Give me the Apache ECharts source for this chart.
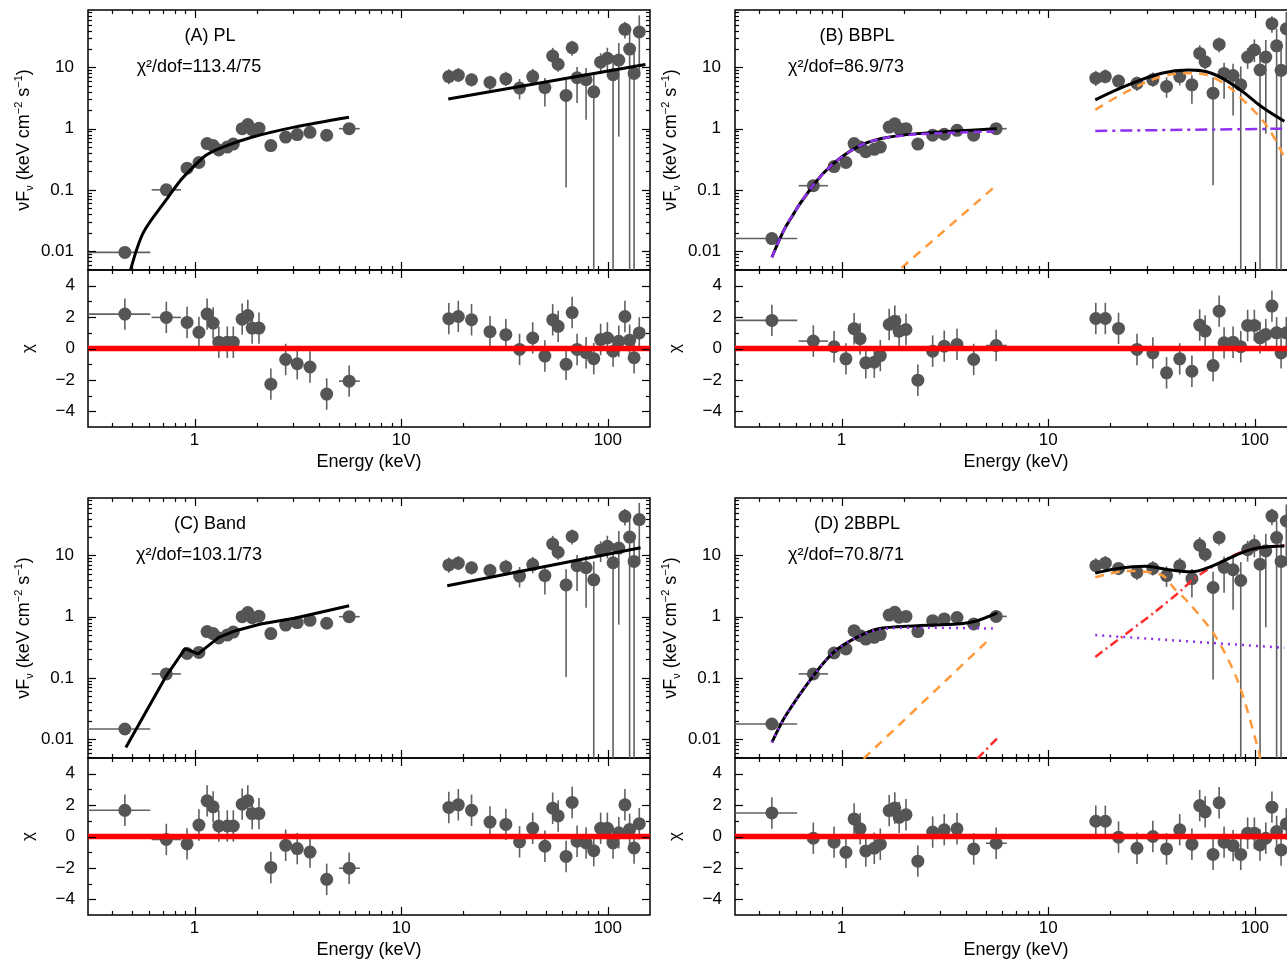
<!DOCTYPE html>
<html>
<head>
<meta charset="utf-8">
<script src="https://cdn.jsdelivr.net/npm/echarts@6/dist/echarts.min.js"></script>
<style>
  html, body { margin: 0; background: #fff; }
  #chart { width: 1287px; height: 961px; }
</style>
</head>
<body>
<div id="chart"></div>
<script>
// ---- axis ranges and tick marks ----
const X_MIN = 0.305, X_MAX = 160;
const Y_MIN = 0.0049, Y_MAX = 87;
const X_MAJOR = [1, 10, 100];
const X_MINOR = [0.4, 0.5, 0.6, 0.7, 0.8, 0.9, 2, 3, 4, 5, 6, 7, 8, 9, 20, 30, 40, 50, 60, 70, 80, 90];
const Y_MAJOR = [0.01, 0.1, 1, 10];
const Y_MINOR = [0.005, 0.006, 0.007, 0.008, 0.009, 0.02, 0.03, 0.04, 0.05, 0.06, 0.07, 0.08, 0.09,
  0.2, 0.3, 0.4, 0.5, 0.6, 0.7, 0.8, 0.9, 2, 3, 4, 5, 6, 7, 8, 9, 20, 30, 40, 50, 60, 70, 80];
const R_MAJOR = [-4, -2, 0, 2, 4];
const R_MINOR = [-3, -1, 1, 3];

// ---- energies (keV) ----
const lowE = [0.46, 0.73, 0.92, 1.05, 1.15, 1.23, 1.31, 1.44, 1.54, 1.70, 1.81, 1.90, 2.05, 2.34, 2.76, 3.14, 3.62, 4.36, 5.60];
const lowBinLo = [0.30, 0.62, 0.92, 1.05, 1.15, 1.23, 1.31, 1.44, 1.54, 1.70, 1.81, 1.90, 2.05, 2.34, 2.76, 3.14, 3.62, 4.36, 5.0];
const lowBinHi = [0.61, 0.86, 0.92, 1.05, 1.15, 1.23, 1.31, 1.44, 1.54, 1.70, 1.81, 1.90, 2.05, 2.34, 2.76, 3.14, 3.62, 4.36, 6.3];
const highE = [17.0, 18.9, 21.9, 26.9, 32.1, 37.4, 43.3, 49.6, 54.1, 57.5, 62.8, 67.2, 71.0, 78.5, 85.5, 92.3, 99.5, 106, 113, 121, 127.5, 134, 142];
// flux error ratios for high-energy bins (down / up)
const errDn = [1.34, 1.29, 1.29, 1.33, 1.3, 1.53, 1.39, 2.04, 1.4, 1.33, 32, 1.35, 2.6, 4.5, 1e6, 1.56, 1.57, 1e6, 17.8, 1.41, 1e6, 1e6, 5.4];
const errUp = [1.32, 1.31, 1.27, 1.28, 1.31, 1.41, 1.34, 1.43, 1.36, 1.33, 1.8, 1.3, 1.5, 1.55, 2.0, 1.4, 1.49, 2.1, 1.9, 1.32, 1.9, 2.2, 1.87];

// ---- unfolded spectra, nuFnu (keV cm^-2 s^-1) ----
const fluxLowA = [0.0095, 0.10, 0.226, 0.28, 0.57, 0.53, 0.45, 0.50, 0.56, 1.0, 1.17, 0.96, 1.02, 0.53, 0.73, 0.80, 0.87, 0.78, 1.0];
const fluxHighA = [7.1, 7.5, 6.3, 5.7, 6.5, 4.6, 7.1, 4.7, 15.4, 11.3, 3.5, 21, 6.8, 6.3, 4.0, 12.2, 14.1, 7.6, 13.2, 42, 20, 8.0, 38];
const fluxLowB = [0.016, 0.117, 0.24, 0.28, 0.57, 0.50, 0.42, 0.46, 0.50, 1.06, 1.2, 1.0, 1.0, 0.56, 0.78, 0.81, 0.94, 0.78, 1.0];
const fluxHighB = [6.7, 7.1, 6.0, 5.5, 6.3, 4.9, 7.1, 5.2, 17.0, 12.4, 3.8, 23.8, 8.0, 7.4, 5.2, 14.8, 19.3, 9.1, 14.8, 52, 22.6, 9.0, 43];
const fluxLowC = [0.0146, 0.116, 0.25, 0.26, 0.57, 0.53, 0.45, 0.50, 0.56, 1.0, 1.17, 0.96, 1.02, 0.53, 0.73, 0.80, 0.87, 0.78, 1.0];
const fluxHighC = [7.0, 7.5, 6.3, 5.7, 6.5, 4.6, 7.1, 4.7, 15.4, 11.3, 3.3, 20.5, 6.8, 6.3, 4.0, 12.2, 14.1, 7.6, 13.2, 43.7, 20, 8.0, 38.6];
const fluxLowD = [0.0176, 0.116, 0.255, 0.296, 0.59, 0.49, 0.43, 0.46, 0.51, 1.06, 1.18, 0.98, 1.01, 0.57, 0.86, 0.92, 0.97, 0.76, 1.01];
const fluxHighD = [6.8, 7.5, 6.15, 5.3, 6.15, 4.7, 6.8, 4.2, 14.7, 10.5, 3.0, 19.6, 6.4, 5.85, 3.9, 12.4, 14.7, 7.2, 11.9, 44, 19.6, 8.0, 36.6];

// ---- residuals (chi) ----
const resLowA = [2.19, 1.98, 1.66, 1.03, 2.19, 1.62, 0.4, 0.4, 0.4, 1.87, 2.1, 1.3, 1.3, -2.27, -0.7, -0.97, -1.18, -2.9, -2.08];
const resHighA = [1.9, 2.04, 1.83, 1.07, 0.88, -0.06, 0.67, -0.48, 1.83, 1.41, -1.01, 2.29, -0.06, -0.27, -0.65, 0.57, 0.67, -0.17, 0.46, 2.04, 0.53, -0.59, 0.99];
const resLowB = [1.79, 0.47, 0.11, -0.66, 1.26, 0.62, -0.91, -0.87, -0.45, 1.53, 1.74, 1.1, 1.21, -2.02, -0.17, 0.15, 0.26, -0.70, 0.19];
const resHighB = [1.91, 1.91, 1.28, -0.06, -0.28, -1.55, -0.66, -1.45, 1.49, 1.11, -1.09, 2.38, 0.36, 0.40, 0.11, 1.47, 1.47, 0.68, 0.89, 2.70, 1.0, -0.28, 1.0];
const resLowC = [1.67, -0.19, -0.47, 0.73, 2.27, 1.89, 0.67, 0.67, 0.67, 2.06, 2.27, 1.46, 1.46, -1.97, -0.56, -0.77, -0.99, -2.73, -2.02];
const resHighC = [1.85, 2.02, 1.67, 0.92, 0.77, -0.34, 0.52, -0.62, 1.80, 1.31, -1.27, 2.17, -0.30, -0.41, -0.90, 0.52, 0.52, -0.41, 0.24, 2.02, 0.45, -0.73, 0.82];
const resLowD = [1.50, -0.11, -0.36, -1.01, 1.12, 0.49, -0.92, -0.75, -0.49, 1.65, 1.82, 1.22, 1.39, -1.57, 0.28, 0.43, 0.49, -0.79, -0.43];
const resHighD = [0.97, 0.97, -0.04, -0.75, 0.0, -0.79, 0.43, -0.49, 1.97, 1.57, -1.14, 2.15, -0.36, -0.58, -1.14, 0.21, 0.21, -0.54, -0.11, 1.87, 0.32, -0.86, 0.8];

// ---- model curves [E, nuFnu] ----
const modelA_low = [[0.49, 0.0049], [0.565, 0.020], [0.73, 0.069], [0.86, 0.146], [0.99, 0.24], [1.14, 0.37], [1.37, 0.50], [1.91, 0.73], [3.04, 1.06], [5.59, 1.54]];
const modelA_high = [[16.9, 3.05], [152, 11.2]];

const modelB_low = [[0.46, 0.0079], [0.54, 0.026], [0.73, 0.12], [0.915, 0.27], [1.19, 0.5], [1.56, 0.69], [2.33, 0.83], [5.63, 1.0]];
const modelB_lowPL = [[0.46, 0.0079], [0.54, 0.026], [0.73, 0.12], [0.915, 0.27], [1.19, 0.5], [1.56, 0.69], [2.33, 0.81], [5.63, 0.9]];
const modelB_lowBB = [[1.95, 0.0053], [5.63, 0.12]];
const modelB_high = [[16.9, 2.96], [24.4, 5.19], [35.4, 8.05], [47.6, 9.1], [61.7, 8.05], [83, 4.59], [107.5, 2.3], [139, 1.32]];
const modelB_highBB = [[16.9, 2.04], [24.4, 4.15], [35.4, 7.08], [49.4, 8.05], [66.4, 6.27], [89.3, 2.78], [116, 1.03], [139, 0.334]];
const modelB_highPL = [[16.9, 0.92], [139, 1.0]];

const modelC_low = [[0.465, 0.0073], [0.73, 0.108], [0.90, 0.30], [1.04, 0.246], [1.31, 0.46], [1.58, 0.59], [2.09, 0.76], [3.04, 0.94], [5.6, 1.51]];
const modelC_high = [[16.7, 3.2], [144, 13.4]];

const modelD_low = [[0.46, 0.0088], [0.536, 0.024], [0.73, 0.108], [0.915, 0.26], [1.14, 0.43], [1.49, 0.63], [2.33, 0.71], [3.64, 0.76], [4.54, 0.86], [5.67, 1.15]];
const modelD_lowPL = [[0.46, 0.0088], [0.536, 0.024], [0.73, 0.108], [0.915, 0.26], [1.14, 0.43], [1.49, 0.61], [2.33, 0.66], [5.4, 0.64]];
const modelD_lowBB1 = [[1.28, 0.0048], [5.31, 0.46]];
const modelD_lowBB2 = [[4.54, 0.0048], [5.67, 0.0103]];
const modelD_high = [[16.9, 5.15], [21.8, 6.15], [29.5, 6.65], [38.2, 5.85], [49.3, 5.4], [61.7, 6.65], [80, 9.9], [100, 13.0], [139, 14.3]];
const modelD_highBB1 = [[16.9, 4.4], [24.4, 5.6], [35.4, 4.8], [41, 2.83], [47.6, 1.72], [64.1, 0.494], [83, 0.086], [103.7, 0.007], [106, 0.0048]];
const modelD_highBB2 = [[16.9, 0.22], [22.7, 0.465], [32.7, 1.18], [44.4, 2.75], [50, 4.0], [61.7, 6.4], [89.3, 11.9], [139, 14.7]];
const modelD_highPL = [[16.9, 0.5], [139, 0.31]];

const FONT = '"Liberation Sans", Arial, Helvetica, sans-serif';
const BLACK = {color: '#000', width: 3, type: 'solid'};
const ORANGE = {color: '#ff9a3c', width: 2.5, type: [9, 7]};
const PURPLE_DD = {color: '#9030f0', width: 2.5, type: [12, 5, 3, 5]};
const PURPLE_DOT = {color: '#9030f0', width: 2.5, type: [2, 5]};
const PURPLE_DASH = {color: '#9030f0', width: 2.5, type: [8, 5]};
const RED_DD = {color: '#ff2a2a', width: 2.5, type: [9, 4, 2, 4]};

const panels = [
  {left: 88, top: 10, title: '(A) PL', chi: 'χ²/dof=113.4/75',
   fLow: fluxLowA, fHigh: fluxHighA, rLow: resLowA, rHigh: resHighA,
   models: [
     {data: modelA_low, style: BLACK, smooth: 0.3},
     {data: modelA_high, style: BLACK}]},
  {left: 735, top: 10, title: '(B) BBPL', chi: 'χ²/dof=86.9/73',
   fLow: fluxLowB, fHigh: fluxHighB, rLow: resLowB, rHigh: resHighB,
   models: [
     {data: modelB_lowBB, style: ORANGE},
     {data: modelB_highBB, style: ORANGE, smooth: 0.4},
     {data: modelB_highPL, style: PURPLE_DD},
     {data: modelB_low, style: BLACK, smooth: 0.3},
     {data: modelB_lowPL, style: PURPLE_DASH, smooth: 0.3},
     {data: modelB_high, style: BLACK, smooth: 0.4}]},
  {left: 88, top: 498, title: '(C) Band', chi: 'χ²/dof=103.1/73',
   fLow: fluxLowC, fHigh: fluxHighC, rLow: resLowC, rHigh: resHighC,
   models: [
     {data: modelC_low, style: BLACK, smooth: false},
     {data: modelC_high, style: BLACK}]},
  {left: 735, top: 498, title: '(D) 2BBPL', chi: 'χ²/dof=70.8/71',
   fLow: fluxLowD, fHigh: fluxHighD, rLow: resLowD, rHigh: resHighD,
   models: [
     {data: modelD_lowBB1, style: ORANGE},
     {data: modelD_lowBB2, style: RED_DD},
     {data: modelD_highBB1, style: ORANGE, smooth: 0.3},
     {data: modelD_highBB2, style: RED_DD, smooth: 0.3},
     {data: modelD_highPL, style: PURPLE_DOT},
     {data: modelD_low, style: BLACK, smooth: 0.3},
     {data: modelD_lowPL, style: PURPLE_DOT, smooth: 0.3},
     {data: modelD_high, style: BLACK, smooth: 0.4}]}
];

const W = 562, H_TOP = 260, H_RES = 157;

function logFmt(v) {
  const lg = Math.log10(v);
  const k = Math.round(lg);
  if (Math.abs(lg - k) > 1e-6) return '';
  return k < 0 ? Math.pow(10, k).toFixed(-k) : String(Math.pow(10, k));
}
function resFmt(v) {
  if (Math.abs(v % 2) > 1e-9) return '';
  return v < 0 ? '\u2212' + (-v) : String(v);
}

function tickData(isRes) {
  const yRef = isRes ? 0 : 1;
  const d = [];
  X_MAJOR.forEach(v => d.push([v, yRef, 0, 1]));
  X_MINOR.forEach(v => d.push([v, yRef, 0, 0]));
  (isRes ? R_MAJOR : Y_MAJOR).forEach(v => d.push([1, v, 1, 1]));
  (isRes ? R_MINOR : Y_MINOR).forEach(v => d.push([1, v, 1, 0]));
  return d;
}

function renderTicks(params, api) {
  const cs = params.coordSys;
  const p = api.coord([api.value(0), api.value(1)]);
  const len = api.value(3) ? 8 : 4;
  const st = {stroke: '#000', lineWidth: 1.2};
  let a, b;
  if (api.value(2) === 0) {
    const x = Math.round(p[0]) + 0.5;
    a = {x1: x, y1: cs.y + cs.height, x2: x, y2: cs.y + cs.height - len};
    b = {x1: x, y1: cs.y, x2: x, y2: cs.y + len};
  } else {
    const y = Math.round(p[1]) + 0.5;
    a = {x1: cs.x, y1: y, x2: cs.x + len, y2: y};
    b = {x1: cs.x + cs.width, y1: y, x2: cs.x + cs.width - len, y2: y};
  }
  return {type: 'group', children: [
    {type: 'line', shape: a, style: st},
    {type: 'line', shape: b, style: st}]};
}

function renderErr(params, api) {
  const cs = params.coordSys;
  const cy = v => Math.max(cs.y, Math.min(cs.y + cs.height, v));
  const cx = v => Math.max(cs.x, Math.min(cs.x + cs.width, v));
  const c = api.coord([api.value(0), api.value(1)]);
  const t = api.coord([api.value(0), api.value(3)]);
  const b = api.coord([api.value(0), api.value(2)]);
  const l = api.coord([api.value(4), api.value(1)]);
  const r = api.coord([api.value(5), api.value(1)]);
  const st = {stroke: '#606060', lineWidth: 1.6};
  return {type: 'group', children: [
    {type: 'line', shape: {x1: c[0], y1: cy(t[1]), x2: c[0], y2: cy(b[1])}, style: st},
    {type: 'line', shape: {x1: cx(l[0]), y1: c[1], x2: cx(r[0]), y2: c[1]}, style: st}]};
}

const grids = [], xAxes = [], yAxes = [], series = [], graphics = [];

panels.forEach((p, i) => {
  const gTop = 2 * i, gRes = 2 * i + 1;
  const gBase = {left: p.left, width: W, show: true, borderColor: '#000', borderWidth: 1.5,
    containLabel: false, outerBoundsMode: 'none'};
  grids.push(Object.assign({}, gBase, {top: p.top, height: H_TOP}));
  grids.push(Object.assign({}, gBase, {top: p.top + H_TOP, height: H_RES}));

  const xBase = {type: 'log', logBase: 10, min: X_MIN, max: X_MAX,
    axisLine: {show: false}, axisTick: {show: false}, splitLine: {show: false}};
  xAxes.push(Object.assign({}, xBase, {gridIndex: gTop, axisLabel: {show: false}}));
  xAxes.push(Object.assign({}, xBase, {gridIndex: gRes,
    axisLabel: {show: true, formatter: logFmt, color: '#000', fontSize: 17, fontFamily: FONT, margin: 5},
    name: 'Energy (keV)', nameLocation: 'middle', nameGap: 26,
    nameTextStyle: {color: '#000', fontSize: 18, fontFamily: FONT}}));

  yAxes.push({type: 'log', logBase: 10, gridIndex: gTop, min: Y_MIN, max: Y_MAX,
    axisLine: {show: false}, axisTick: {show: false}, splitLine: {show: false},
    axisLabel: {formatter: logFmt, color: '#000', fontSize: 17, fontFamily: FONT, margin: 14}});
  yAxes.push({type: 'value', gridIndex: gRes, min: -5, max: 5, splitNumber: 5,
    axisLine: {show: false}, axisTick: {show: false}, splitLine: {show: false},
    axisLabel: {formatter: resFmt, color: '#000', fontSize: 17, fontFamily: FONT, margin: 13}});

  // error bars, top panel
  const errTop = [];
  lowE.forEach((e, k) => errTop.push([e, p.fLow[k], p.fLow[k], p.fLow[k], lowBinLo[k], lowBinHi[k]]));
  highE.forEach((e, k) => errTop.push([e, p.fHigh[k], p.fHigh[k] / errDn[k], p.fHigh[k] * errUp[k], e, e]));
  const errRes = [];
  lowE.forEach((e, k) => errRes.push([e, p.rLow[k], p.rLow[k] - 1, p.rLow[k] + 1, lowBinLo[k], lowBinHi[k]]));
  highE.forEach((e, k) => errRes.push([e, p.rHigh[k], p.rHigh[k] - 1, p.rHigh[k] + 1, e, e]));

  series.push({type: 'custom', xAxisIndex: gTop, yAxisIndex: gTop, renderItem: renderErr, data: errTop, z: 2, silent: true});
  series.push({type: 'custom', xAxisIndex: gRes, yAxisIndex: gRes, renderItem: renderErr, data: errRes, z: 2, silent: true});

  const ptsTop = lowE.map((e, k) => [e, p.fLow[k]]).concat(highE.map((e, k) => [e, p.fHigh[k]]));
  const ptsRes = lowE.map((e, k) => [e, p.rLow[k]]).concat(highE.map((e, k) => [e, p.rHigh[k]]));
  const sc = {type: 'scatter', symbolSize: 13, itemStyle: {color: '#555555', opacity: 1}, z: 3, silent: true};
  series.push(Object.assign({}, sc, {xAxisIndex: gTop, yAxisIndex: gTop, data: ptsTop}));
  series.push(Object.assign({}, sc, {xAxisIndex: gRes, yAxisIndex: gRes, data: ptsRes}));

  p.models.forEach(m => {
    series.push({type: 'line', xAxisIndex: gTop, yAxisIndex: gTop, data: m.data,
      showSymbol: false, symbol: 'none', smooth: m.smooth || false, clip: true,
      lineStyle: m.style, z: 4, silent: true});
  });

  // zero line in residual panel
  series.push({type: 'line', xAxisIndex: gRes, yAxisIndex: gRes, data: [[X_MIN, 0], [X_MAX, 0]],
    showSymbol: false, symbol: 'none', lineStyle: {color: '#ff0000', width: 5.5}, z: 5, silent: true});

  series.push({type: 'custom', xAxisIndex: gTop, yAxisIndex: gTop, renderItem: renderTicks, data: tickData(false), z: 6, silent: true});
  series.push({type: 'custom', xAxisIndex: gRes, yAxisIndex: gRes, renderItem: renderTicks, data: tickData(true), z: 6, silent: true});

  // annotations
  graphics.push({type: 'text', x: p.left + 122, y: p.top + 26,
    style: {text: p.title, font: '18px ' + FONT, fill: '#000', align: 'center', verticalAlign: 'middle'}});
  graphics.push({type: 'text', x: p.left + 111, y: p.top + 57,
    style: {text: p.chi, font: '18px ' + FONT, fill: '#000', align: 'center', verticalAlign: 'middle'}});
  graphics.push({type: 'text', x: p.left - 64, y: p.top + H_TOP / 2, rotation: Math.PI / 2,
    style: {text: '{a|νF}{b|ν}{a| (keV cm}{c|−2}{a| s}{c|−1}{a|)}',
      align: 'center', verticalAlign: 'middle', fill: '#000',
      rich: {
        a: {fontSize: 18, fontFamily: FONT, lineHeight: 22, verticalAlign: 'middle'},
        b: {fontSize: 11, fontFamily: FONT, lineHeight: 22, verticalAlign: 'bottom'},
        c: {fontSize: 11, fontFamily: FONT, lineHeight: 22, verticalAlign: 'top'}
      }}});
  graphics.push({type: 'text', x: p.left - 60, y: p.top + H_TOP + H_RES / 2, rotation: Math.PI / 2,
    style: {text: 'χ', font: '17px ' + FONT, fill: '#000', align: 'center', verticalAlign: 'middle'}});
});

const chart = echarts.init(document.getElementById('chart'));
chart.setOption({
  animation: false,
  backgroundColor: '#fff',
  grid: grids,
  xAxis: xAxes,
  yAxis: yAxes,
  series: series,
  graphic: graphics
});
</script>
</body>
</html>
